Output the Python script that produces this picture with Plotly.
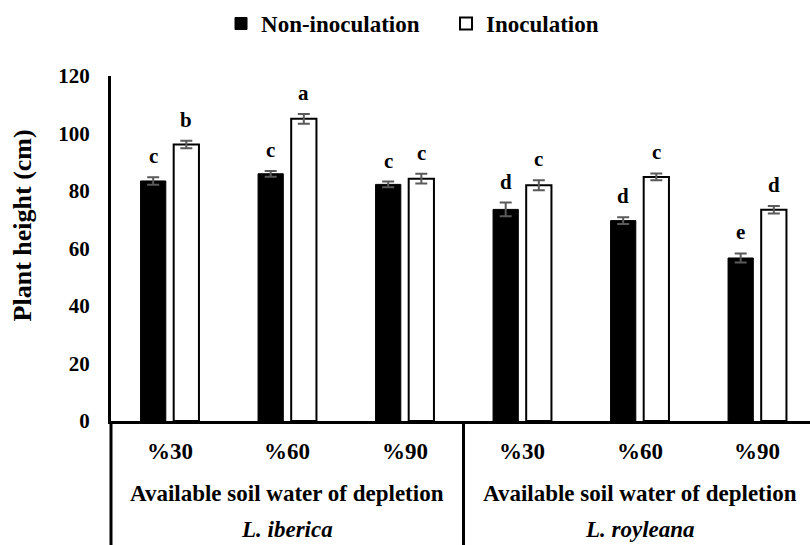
import plotly.graph_objects as go

# Plant height (cm) under three soil-water depletion levels for two species
species = ["L. iberica", "L. royleana"]
levels = ["%30", "%60", "%90"]
non_inoc = [83.5, 86.0, 82.3, 73.6, 69.7, 56.7]
non_inoc_err = [1.3, 1.0, 1.0, 2.4, 1.2, 1.6]
inoc = [96.2, 105.1, 84.3, 82.0, 84.9, 73.5]
inoc_err = [1.3, 1.7, 1.7, 1.7, 1.2, 1.3]
non_inoc_letters = ["c", "c", "c", "d", "d", "e"]
inoc_letters = ["b", "a", "c", "c", "c", "d"]
group_title = "Available soil water of depletion"
y_ticks = [0, 20, 40, 60, 80, 100, 120]

FONT = "Liberation Serif"
n_groups = len(non_inoc)
pos = list(range(n_groups))
shift = 0.141
bar_w = 0.215


def bold(s):
    return "<b>" + s + "</b>"


fig = go.Figure()
fig.add_trace(go.Bar(
    x=[p - shift for p in pos], y=non_inoc, width=bar_w, name=bold("Non-inoculation"),
    marker=dict(color="black", line=dict(color="black", width=1)),
    error_y=dict(type="data", array=non_inoc_err, color="#5a5a5a", thickness=2, width=6),
))
fig.add_trace(go.Bar(
    x=[p + shift for p in pos], y=inoc, width=bar_w, name=bold("Inoculation"),
    marker=dict(color="white", line=dict(color="black", width=2)),
    error_y=dict(type="data", array=inoc_err, color="#5a5a5a", thickness=2, width=6),
))

annotations = []
letter_font = dict(family=FONT, size=21, color="black")
# significance letters above each bar
for p, v, e, t in zip(pos, non_inoc, non_inoc_err, non_inoc_letters):
    annotations.append(dict(x=p - shift, y=v + e, text=bold(t), showarrow=False, yanchor="bottom",
                            yshift=7, font=letter_font))
for p, v, e, t in zip(pos, inoc, inoc_err, inoc_letters):
    annotations.append(dict(x=p + shift, y=v + e, text=bold(t), showarrow=False, yanchor="bottom",
                            yshift=7, font=letter_font))

# table-style category labels under the axis
row_font = dict(family=FONT, size=23, color="black")
for i, sp in enumerate(species):
    for j, lv in enumerate(levels):
        annotations.append(dict(x=i * 3 + j, y=-0.0897, yref="paper", text=bold(lv), showarrow=False,
                                yanchor="middle", font=row_font))
    annotations.append(dict(x=i * 3 + 1, y=-0.211, yref="paper", text=bold(group_title),
                            showarrow=False, yanchor="middle", font=row_font))
    annotations.append(dict(x=i * 3 + 1, y=-0.3155, yref="paper", text="<i>" + bold(sp) + "</i>",
                            showarrow=False, yanchor="middle", font=row_font))

# y-axis title
annotations.append(dict(x=-0.1273, y=0.567, xref="paper", yref="paper", text=bold("Plant height (cm)"),
                        textangle=-90, showarrow=False, xanchor="center", yanchor="middle",
                        font=dict(family=FONT, size=26, color="black")))

shapes = [
    # left border running down through the label rows
    dict(type="line", xref="paper", yref="paper", x0=0, x1=0, y0=0, y1=-0.37,
         line=dict(color="black", width=3)),
    # divider between species
    dict(type="line", xref="x", yref="paper", x0=2.5, x1=2.5, y0=0, y1=-0.37,
         line=dict(color="black", width=3)),
]

fig.update_layout(
    width=810, height=545,
    margin=dict(l=111, r=0, t=75.5, b=124),
    paper_bgcolor="white", plot_bgcolor="white",
    barmode="overlay",
    showlegend=True,
    legend=dict(orientation="h", x=0.1574, y=1.152, xanchor="left", yanchor="middle",
                entrywidth=180,
                font=dict(family=FONT, size=23, color="black"),
                bgcolor="rgba(0,0,0,0)"),
    xaxis=dict(range=[-0.5, -0.5 + 699 / 117.5], showticklabels=False, ticks="",
               showgrid=False, zeroline=False, showline=True, linecolor="black", linewidth=3),
    yaxis=dict(range=[0, 120], tickvals=y_ticks, ticktext=[bold(str(v)) for v in y_ticks],
               showgrid=False, zeroline=False,
               showline=True, linecolor="black", linewidth=3, ticks="",
               ticklabelstandoff=14,
               tickfont=dict(family=FONT, size=21, color="black")),
    annotations=annotations,
    shapes=shapes,
)

fig.write_html("out.html")
